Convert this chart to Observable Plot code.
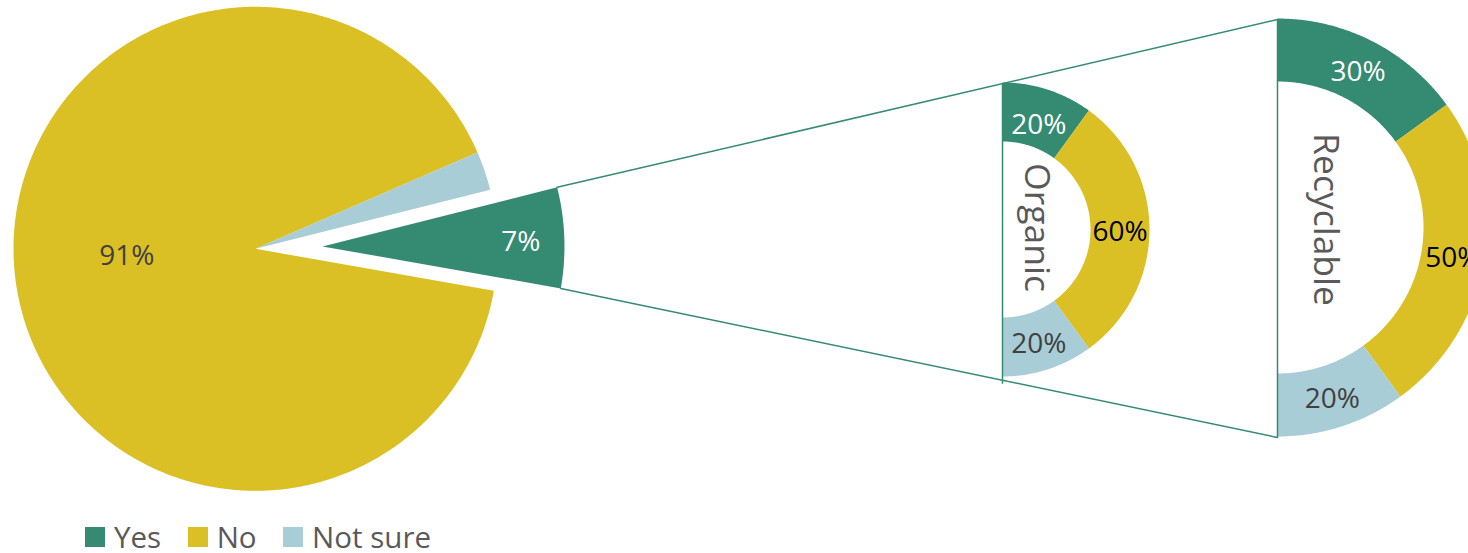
<!DOCTYPE html>
<html>
<head>
<meta charset="utf-8">
<script src="https://cdn.jsdelivr.net/npm/d3@7"></script>
<script src="https://cdn.jsdelivr.net/npm/@observablehq/plot@0.6"></script>
<style>
  html, body { margin: 0; padding: 0; background: #fff; overflow: hidden; }
  #chart { width: 1468px; }
  #legend { margin-left: 85px; padding-top: 8px; line-height: 28px; }
  #legend [class$="-swatches-wrap"] { min-height: 28px !important; }
  #legend [class$="-swatch"] { margin-right: 26.5px !important; }
  #legend [class$="-swatch"] > svg { margin-right: 9px !important; }
</style>
</head>
<body>
<div id="chart"></div>
<div id="legend"></div>
<script>
// ---- data ----
const categories = ["Yes", "No", "Not sure"];
const colors = ["#358a72", "#dbc025", "#a8cdd6"];
const mainValues = [6.7, 90.7, 2.6];
const mainLabels = ["7%", "91%", ""];
const subGroups = ["Organic", "Recyclable"];
const organicValues = [20, 60, 20];
const recyclableValues = [30, 50, 20];

// ---- layout ----
const W = 1468, H = 515;
const deg = Math.PI / 180;
const pie = {cx: 255, cy: 248.3, r: 242, start: 100 * deg, explode: 67};
const mainLabelR = {"Yes": 0.82, "No": 0.535, "Not sure": 0.7};
const mainLabelDy = {"Yes": 3, "No": -8, "Not sure": 0};
const donuts = [
  {cx: 1002, cy: 229, r0: 88, r1: 147, titleDx: 34, titleDy: -2, values: organicValues},
  {cx: 1277, cy: 227, r0: 146, r1: 209, titleDx: 48, titleDy: -8, values: recyclableValues}
];
const labelColor = {"Yes": "#ffffff", "No": "#000000", "Not sure": "#404040"};
const mainLabelColor = {"Yes": "#ffffff", "No": "#404040", "Not sure": "#404040"};
const font = "'Open Sans', sans-serif";

function pt(cx, cy, r, a) { return [cx + r * Math.sin(a), cy - r * Math.cos(a)]; }
function arcPts(cx, cy, r0, r1, a0, a1) {
  const n = Math.max(2, Math.ceil(Math.abs(a1 - a0) / (0.5 * deg)));
  const pts = [];
  for (let i = 0; i <= n; i++) pts.push(pt(cx, cy, r1, a0 + (a1 - a0) * i / n));
  if (r0 > 0) for (let i = n; i >= 0; i--) pts.push(pt(cx, cy, r0, a0 + (a1 - a0) * i / n));
  else pts.push([cx, cy]);
  return pts;
}

const sliceRows = [];
const labels = [];
function pushPoly(id, cat, pts) { for (const [x, y] of pts) sliceRows.push({id, cat, x, y}); }

// main pie: clockwise No, Not sure, Yes (Yes exploded toward the right)
const mainOrder = [1, 2, 0];
const mainTotal = d3.sum(mainValues);
let a = pie.start, yesGeom;
for (const i of mainOrder) {
  const span = mainValues[i] / mainTotal * 2 * Math.PI;
  const a0 = a, a1 = a + span, mid = (a0 + a1) / 2;
  a = a1;
  const cat = categories[i];
  const e = cat === "Yes" ? pie.explode : 0;
  const cx = pie.cx + e * Math.sin(mid), cy = pie.cy - e * Math.cos(mid);
  pushPoly("main-" + i, cat, arcPts(cx, cy, 0, pie.r, a0, a1));
  if (mainLabels[i]) {
    const [lx, ly] = pt(cx, cy, pie.r * mainLabelR[cat], mid);
    labels.push({x: lx, y: ly + mainLabelDy[cat], text: mainLabels[i], color: mainLabelColor[cat]});
  }
  if (cat === "Yes") yesGeom = {cx, cy, a0, a1};
}

// half donuts
donuts.forEach((d, g) => {
  const tot = d3.sum(d.values);
  let b = 0;
  d.values.forEach((v, i) => {
    const span = v / tot * Math.PI;
    const a0 = b, a1 = b + span, mid = (a0 + a1) / 2;
    b = a1;
    pushPoly("sub-" + g + "-" + i, categories[i], arcPts(d.cx, d.cy, d.r0, d.r1, a0, a1));
    const [lx, ly] = pt(d.cx, d.cy, (d.r0 + d.r1) / 2, mid);
    const extra = (g === 0 && i === 0) ? 4 : 0;
    labels.push({x: lx, y: ly + 3 + extra, text: v + "%", color: labelColor[categories[i]]});
  });
});

// connector lines from exploded slice to the outer half donut
const rec = donuts[1], org = donuts[0];
const pTop = pt(yesGeom.cx, yesGeom.cy, pie.r, yesGeom.a0);
const pBot = pt(yesGeom.cx, yesGeom.cy, pie.r, yesGeom.a1);
const qTop = [rec.cx, rec.cy - rec.r1 + 1];
const qBot = [rec.cx, rec.cy + rec.r1 + 1];
const connectors = [
  {id: "top", x: pTop[0], y: pTop[1]}, {id: "top", x: qTop[0], y: qTop[1]},
  {id: "bot", x: pBot[0], y: pBot[1]}, {id: "bot", x: qBot[0], y: qBot[1]}
];
function yAt(p, q, x) { return p[1] + (q[1] - p[1]) * (x - p[0]) / (q[0] - p[0]); }
const rules = [
  {x: org.cx, y1: yAt(pTop, qTop, org.cx), y2: yAt(pBot, qBot, org.cx) + 4},
  {x: rec.cx, y1: qTop[1], y2: qBot[1]}
];
const titles = donuts.map((d, g) => ({x: d.cx + d.titleDx, y: d.cy + d.titleDy, text: subGroups[g]}));

const textColors = Array.from(new Set(labels.map(d => d.color)));

const chart = Plot.plot({
  width: W,
  height: H,
  margin: 0,
  style: {fontFamily: font, background: "#fff", overflow: "hidden"},
  x: {domain: [0, W], range: [0, W], axis: null},
  y: {domain: [0, H], range: [0, H], axis: null},
  color: {domain: categories, range: colors},
  marks: [
    Plot.line(sliceRows, {x: "x", y: "y", z: "id", fill: "cat", stroke: "none", curve: "linear-closed"}),
    Plot.line(connectors, {x: "x", y: "y", z: "id", stroke: colors[0], strokeWidth: 1.5}),
    Plot.ruleX(rules, {x: "x", y1: "y1", y2: "y2", stroke: colors[0], strokeWidth: 1.5}),
    ...textColors.map(c => Plot.text(labels.filter(d => d.color === c), {
      x: "x", y: "y", text: "text", fill: c, fontSize: 28, fontFamily: font
    })),
    Plot.text(titles, {x: "x", y: "y", text: "text", rotate: 90, fill: "#595959", fontSize: 35.5, fontFamily: font})
  ]
});
document.getElementById("chart").appendChild(chart);

const legend = Plot.legend({
  color: {domain: categories, range: colors},
  legend: "swatches",
  swatchSize: 20,
  className: "lg",
  style: {fontSize: "29.5px", fontFamily: font, color: "#595959", marginBottom: "0", lineHeight: "28px"}
});
document.getElementById("legend").appendChild(legend);
</script>
</body>
</html>
